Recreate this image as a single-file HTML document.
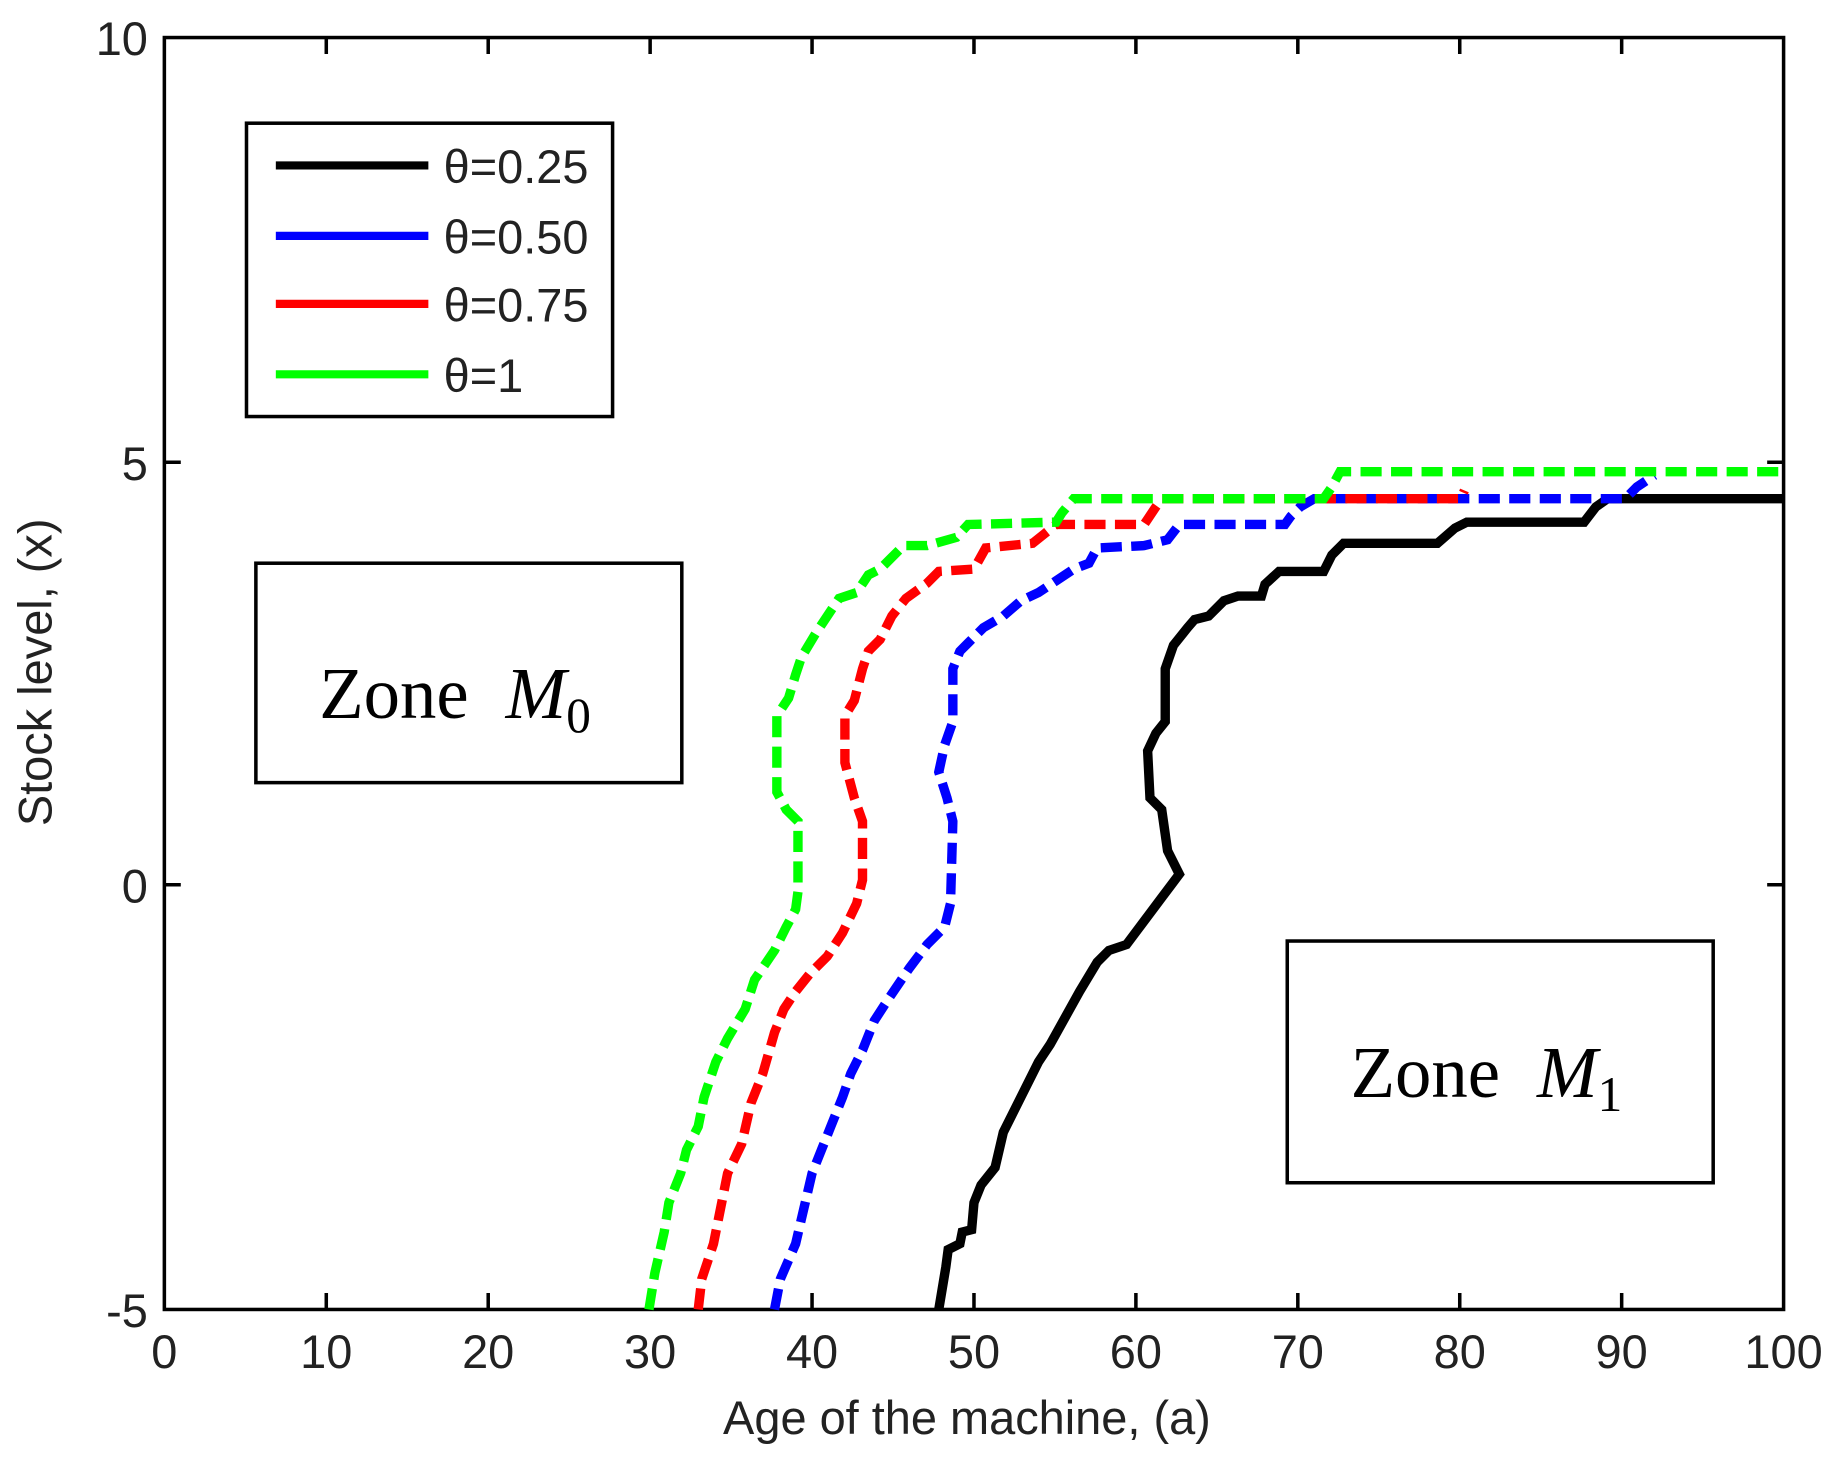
<!DOCTYPE html>
<html><head><meta charset="utf-8"><style>
html,body{margin:0;padding:0;background:#fff;}
svg{display:block;}
.t{font-family:"Liberation Sans",sans-serif;font-size:40px;fill:#222;}
.z{font-family:"Liberation Serif",serif;font-size:62px;fill:#000;}
</style></head><body>
<svg width="1840" height="1462" viewBox="0 0 1568 1246" xmlns="http://www.w3.org/2000/svg">
<rect x="0" y="0" width="1568" height="1246" fill="#fff"/>
<g stroke="#000" stroke-width="3" fill="none">
<rect x="140" y="32" width="1380" height="1084"/>
<path d="M278 1116v-14M416 1116v-14M554 1116v-14M692 1116v-14M830 1116v-14M968 1116v-14M1106 1116v-14M1244 1116v-14M1382 1116v-14
M278 32v14M416 32v14M554 32v14M692 32v14M830 32v14M968 32v14M1106 32v14M1244 32v14M1382 32v14
M140 394h14M140 754h14M1520 394h-14M1520 754h-14"/>
</g>
<g class="t" text-anchor="middle">
<text x="140" y="1166">0</text><text x="278" y="1166">10</text><text x="416" y="1166">20</text><text x="554" y="1166">30</text><text x="692" y="1166">40</text><text x="830" y="1166">50</text><text x="968" y="1166">60</text><text x="1106" y="1166">70</text><text x="1244" y="1166">80</text><text x="1382" y="1166">90</text><text x="1520" y="1166">100</text>
</g>
<g class="t" text-anchor="end">
<text x="126" y="47">10</text><text x="126" y="409">5</text><text x="126" y="769">0</text><text x="126" y="1131">-5</text>
</g>
<text class="t" x="824" y="1222" text-anchor="middle" font-size="41">Age of the machine, (a)</text>
<text class="t" transform="translate(44,573) rotate(-90)" text-anchor="middle" font-size="41">Stock level, (x)</text>

<g fill="none" stroke-width="8" stroke-linejoin="miter">
<polyline stroke="#000" points="800,1116 806,1080 808,1065 818,1060 820,1050 828,1048 830,1025 836,1010 848,995 855,965 870,935 885,905 895,890 920,845 935,820 945,810 960,805 975,785 990,765 1005,745 995,725 990,690 980,680 978,640 985,625 993,615 993,570 1000,550 1012,535 1018,528 1030,525 1043,512 1055,508 1075,508 1078,498 1090,487 1128,487 1135,473 1145,463 1225,463 1240,450 1250,445 1350,445 1360,432 1370,425 1520,425"/>
<polyline stroke="#0000ff" stroke-dasharray="18 8" points="660,1116 665,1090 678,1060 685,1030 692,1000 700,980 708,960 718,935 725,915 735,895 745,870 758,850 775,825 790,805 805,790 810,770 812,700 807,680 800,658 805,635 812,615 812,570 818,555 825,548 838,535 855,525 870,512 885,505 900,495 915,485 928,480 935,467 975,465 995,460 1005,447 1095,447 1100,440 1108,432 1120,425 1385,425 1395,415 1410,405"/>
<polyline stroke="#ff0000" stroke-dasharray="18 8" points="595,1116 598,1090 608,1060 612,1040 620,1000 632,975 640,940 650,915 660,880 668,860 678,845 690,830 705,815 718,795 730,770 735,750 735,700 728,680 720,650 720,610 728,597 735,570 740,555 750,545 760,525 772,510 790,497 800,487 830,485 840,467 880,463 890,455 900,447 975,447 985,432 990,425 1245,425 1248,418"/>
<polyline stroke="#00ff00" stroke-dasharray="18 8" points="553,1116 558,1085 566,1050 570,1025 580,1000 585,980 595,960 600,935 610,905 620,885 635,860 643,835 660,810 670,790 678,775 680,760 680,700 670,690 662,675 662,610 672,595 678,575 683,560 695,540 705,525 715,510 730,505 740,490 750,485 770,465 790,465 815,458 825,447 900,445 905,437 915,425 1128,425 1135,415 1142,402 1520,402"/>
</g>

<rect x="210" y="105" width="312" height="250" fill="#fff" stroke="#000" stroke-width="3"/>
<g stroke-width="7">
<line x1="235" y1="141" x2="365" y2="141" stroke="#000"/>
<line x1="235" y1="201" x2="365" y2="201" stroke="#0000ff"/>
<line x1="235" y1="259" x2="365" y2="259" stroke="#ff0000"/>
<line x1="235" y1="319" x2="365" y2="319" stroke="#00ff00"/>
</g>
<g class="t">
<text x="378" y="156">θ=0.25</text><text x="378" y="216">θ=0.50</text><text x="378" y="274">θ=0.75</text><text x="378" y="334">θ=1</text>
</g>

<rect x="218" y="480" width="363" height="187" fill="#fff" stroke="#000" stroke-width="3"/>
<text class="z" x="272" y="612">Zone <tspan font-style="italic" dx="16">M</tspan><tspan font-size="42" dy="12">0</tspan></text>
<rect x="1097" y="802" width="363" height="206" fill="#fff" stroke="#000" stroke-width="3"/>
<text class="z" x="1151" y="935">Zone <tspan font-style="italic" dx="16">M</tspan><tspan font-size="42" dy="12">1</tspan></text>
</svg>
</body></html>
